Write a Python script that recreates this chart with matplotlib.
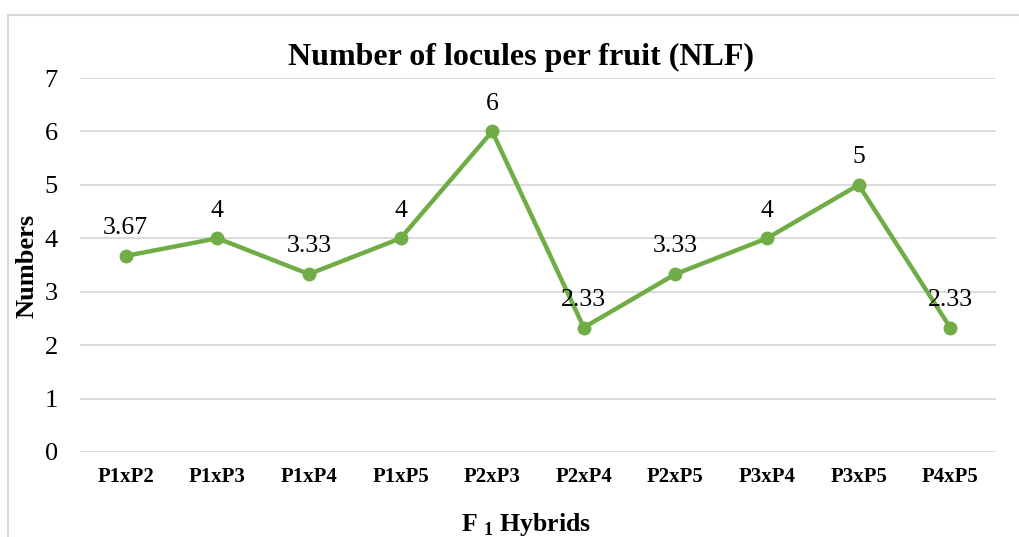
import matplotlib
matplotlib.use("Agg")
import matplotlib.pyplot as plt
from matplotlib.patches import Rectangle

plt.rcParams['font.family'] = ['Liberation Serif', 'DejaVu Serif']
plt.rcParams['mathtext.fontset'] = 'custom'
plt.rcParams['mathtext.rm'] = 'Liberation Serif'
plt.rcParams['mathtext.bf'] = 'Liberation Serif:bold'

# data
hybrids = ["P1xP2", "P1xP3", "P1xP4", "P1xP5", "P2xP3",
           "P2xP4", "P2xP5", "P3xP4", "P3xP5", "P4xP5"]
nlf = [3.67, 4, 3.33, 4, 6, 2.33, 3.33, 4, 5, 2.33]
nlf_labels = ["3.67", "4", "3.33", "4", "6", "2.33", "3.33", "4", "5", "2.33"]
y_ticks = [0, 1, 2, 3, 4, 5, 6, 7]

W, H = 1019, 537
fig = plt.figure(figsize=(W / 100, H / 100), dpi=100)

# light chart border (left and top visible, rest cropped)
fig.patches.append(Rectangle((8 / W, -0.2), 1.5, 1 - 15 / H + 0.2,
                             transform=fig.transFigure, fill=False,
                             edgecolor='#D9D9D9', linewidth=1.5))

ax = fig.add_axes([80 / W, 1 - 452 / H, (996 - 80) / W, (452 - 78) / H])
x = list(range(len(hybrids)))
ax.plot(x, nlf, color='#70AD47', linewidth=3.2, marker='o', markersize=9,
        zorder=3)
for xi, v, lab in zip(x, nlf, nlf_labels):
    ax.annotate(lab, (xi, v), xytext=(0, 12), textcoords='offset points',
                ha='center', va='bottom', fontsize=18.5)

ax.set_xlim(-0.5, len(hybrids) - 0.5)
ax.set_ylim(0, 7)
ax.set_yticks(y_ticks)
ax.set_xticks(x)
ax.set_xticklabels(hybrids, fontsize=15, fontweight='bold')
ax.tick_params(axis='y', length=0, pad=16, labelsize=19)
ax.tick_params(axis='x', length=0, pad=11)
ax.grid(axis='y', color='#D9D9D9', linewidth=1.3)
ax.set_axisbelow(True)
for s in ax.spines.values():
    s.set_visible(False)

fig.text(521 / W, 1 - 57 / H, "Number of locules per fruit (NLF)",
         ha='center', va='center', fontsize=23, fontweight='bold')
fig.text(27 / W, 1 - 266 / H, "Numbers", rotation=90, ha='center',
         va='center', fontsize=19, fontweight='bold')
fig.text(526 / W, 1 - 524 / H, r"F $_{\mathbf{1}}$ Hybrids", ha='center',
         va='center', fontsize=18.5, fontweight='bold')

fig.savefig("out.png", dpi=100)
